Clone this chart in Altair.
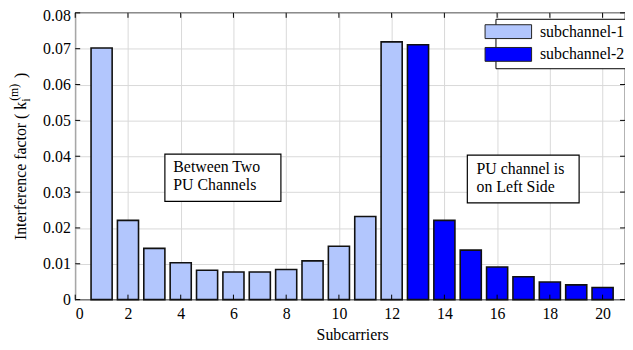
import altair as alt
import pandas as pd

# ---- data ----
subcarriers = list(range(1, 21))
sub1_vals = [0.0702, 0.0221, 0.0143, 0.0103, 0.0082, 0.0077, 0.0077, 0.0084,
             0.0108, 0.0149, 0.0232, 0.0719]
sub2_vals = [0.0711, 0.0221, 0.0138, 0.0091, 0.0064, 0.0049, 0.0041, 0.0034]
series_names = ["subchannel-1", "subchannel-2"]
series_colors = ["#b2c6fd", "#0000ff"]
x_ticks = list(range(0, 21, 2))
y_ticks = [0, 0.01, 0.02, 0.03, 0.04, 0.05, 0.06, 0.07, 0.08]

note_boxes = [
    {"x0": 3.40, "x1": 7.80, "y0": 0.0274, "y1": 0.0406},
    {"x0": 14.87, "x1": 19.11, "y0": 0.0270, "y1": 0.0403},
]
note_lines = [
    {"x": 3.72, "y": 0.0370, "text": "Between Two"},
    {"x": 3.72, "y": 0.0320, "text": "PU Channels"},
    {"x": 15.22, "y": 0.0364, "text": "PU channel is"},
    {"x": 15.22, "y": 0.0315, "text": "on Left Side"},
]
# y-axis title pieces: main text, superscript, subscript, closing bracket
ytitle_main = "Interference factor ( k"
ytitle_sup = "(m)"
ytitle_sub = "i"
ytitle_end = ")"

df = pd.DataFrame({
    "sub": subcarriers,
    "val": sub1_vals + sub2_vals,
    "series": [series_names[0]] * len(sub1_vals) + [series_names[1]] * len(sub2_vals),
})

FONT = "Liberation Serif"
W, H = 556, 290
xscale = alt.Scale(domain=[0, 20.85], nice=False, zero=False)
yscale = alt.Scale(domain=[0, 0.08], nice=False)
x_axis = alt.Axis(values=x_ticks, title="Subcarriers", format="d", tickSize=0,
                  labelPadding=6, titlePadding=5, titleX=280, grid=True, domain=False)
y_axis = alt.Axis(values=y_ticks, title=None, tickSize=0,
                  labelPadding=5, grid=True, domain=False,
                  labelOffset={"condition": {"test": "datum.value >= 0.0799", "value": 3}, "value": 0},
                  labelExpr="datum.value == 0 ? '0' : format(datum.value, '.2f')")

bars = alt.Chart(df).transform_calculate(
    x0="datum.sub - 0.4", x1="datum.sub + 0.4"
).mark_rect(stroke="#111111", strokeWidth=1.6).encode(
    x=alt.X("x0:Q", scale=xscale, axis=x_axis),
    x2="x1:Q",
    y=alt.Y("val:Q", scale=yscale, axis=y_axis),
    y2=alt.datum(0),
    fill=alt.Fill("series:N", scale=alt.Scale(domain=series_names, range=series_colors),
                  legend=alt.Legend(
                      title=None, orient="none", legendX=425, legendY=6,
                      fillColor="white", strokeColor="black", padding=5,
                      symbolType="M-3.36,-1L3.36,-1L3.36,1L-3.36,1Z", symbolSize=196,
                      symbolStrokeColor="#222222", symbolStrokeWidth=1,
                      labelFont=FONT, labelFontSize=16, labelColor="black",
                      labelOffset=24, rowPadding=5)),
)

xt = pd.DataFrame({"t": x_ticks})
yt = pd.DataFrame({"t": y_ticks})
tick_bottom = alt.Chart(xt).mark_rule(color="black").encode(
    x=alt.X("t:Q", scale=xscale, axis=x_axis), y=alt.value(H), y2=alt.value(H - 5))
tick_top = alt.Chart(xt).mark_rule(color="black").encode(
    x=alt.X("t:Q", scale=xscale, axis=x_axis), y=alt.value(0), y2=alt.value(5))
tick_left = alt.Chart(yt).mark_rule(color="black").encode(
    y=alt.Y("t:Q", scale=yscale, axis=y_axis), x=alt.value(0), x2=alt.value(5))
tick_right = alt.Chart(yt).mark_rule(color="black").encode(
    y=alt.Y("t:Q", scale=yscale, axis=y_axis), x=alt.value(W), x2=alt.value(W - 5))

boxes = alt.Chart(pd.DataFrame(note_boxes)).mark_rect(
    fill="white", stroke="black", strokeWidth=1.2).encode(
    x=alt.X("x0:Q", scale=xscale, axis=x_axis), x2="x1:Q",
    y=alt.Y("y0:Q", scale=yscale, axis=y_axis), y2="y1:Q")
texts = alt.Chart(pd.DataFrame(note_lines)).mark_text(
    align="left", baseline="middle", font=FONT, fontSize=16, color="black").encode(
    x=alt.X("x:Q", scale=xscale, axis=x_axis),
    y=alt.Y("y:Q", scale=yscale, axis=y_axis), text="text:N")

# rotated y-axis title built from pieces (main text, superscript, subscript)
def title_piece(txt, px, py, size, align):
    return alt.Chart(pd.DataFrame({"t": [txt]})).mark_text(
        angle=270, align=align, baseline="alphabetic", font=FONT, fontSize=size,
        color="black").encode(x=alt.value(px), y=alt.value(py), text="t:N")

yt_main = title_piece(ytitle_main, -49.5, 90, 16, "right")
yt_sup = title_piece(ytitle_sup, -58, 89, 12, "left")
yt_sub = title_piece(ytitle_sub, -46, 90, 12, "left")
yt_end = title_piece(ytitle_end, -49.5, 66, 16, "left")

chart = alt.layer(bars, tick_bottom, tick_top, tick_left, tick_right, boxes, texts,
                  yt_main, yt_sup, yt_sub, yt_end).properties(
    width=W, height=H,
    padding={"left": 68, "top": 3, "right": 0, "bottom": 45},
    autosize=alt.AutoSizeParams(type="none"),
).configure_view(stroke="black", strokeWidth=1.2).configure_axis(
    labelFont=FONT, labelFontSize=16, labelColor="black",
    titleFont=FONT, titleFontSize=16, titleColor="black", titleFontWeight="normal",
    gridColor="#d9d9d9", gridWidth=1,
)

chart.save("out.html", embed_options={"renderer": "svg", "actions": False})
